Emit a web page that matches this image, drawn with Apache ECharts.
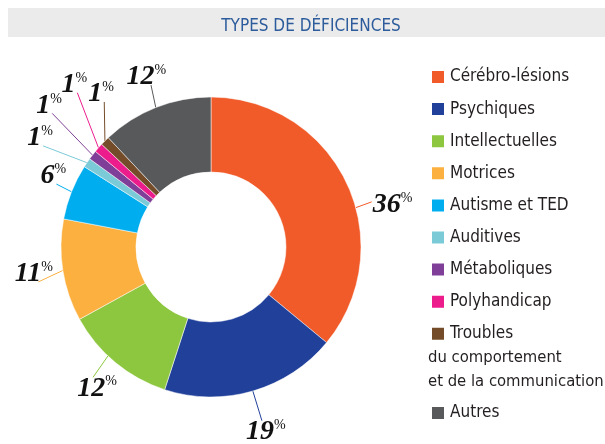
<!DOCTYPE html>
<html>
<head>
<meta charset="utf-8">
<script src="https://cdn.jsdelivr.net/npm/echarts@6/dist/echarts.min.js"></script>
<style>
  html, body { margin: 0; padding: 0; background: #fff; }
  #chart { width: 605px; height: 444px; }
</style>
</head>
<body>
<div id="chart"></div>
<script>
// types de déficiences, en %
const categories = ['Cérébro-lésions', 'Psychiques', 'Intellectuelles', 'Motrices', 'Autisme et TED',
  'Auditives', 'Métaboliques', 'Polyhandicap', 'Troubles', 'Autres']
const values = [36, 19, 12, 11, 6, 1, 1, 1, 1, 12]
const colors = ['#F15A29', '#21409A', '#8DC63F', '#FBB040', '#00AEEF',
  '#7BCAD8', '#7F3F98', '#EC1C8C', '#754C29', '#58595B']

// hand-placed leader lines, like the print layout (degrees clockwise from top, px)
const lineShift = [10, 0, 3.8, 0, 0, 0, 0, 0, 0, 0]
const lineAngle = [70, 163, 215, 245, 297, 291, 316, 339, 359, 348]
const lineLen = [17, 31, 26, 27, 17, 47, 58, 59, 39, 23]

const sansFont = "'Liberation Sans Narrow', 'DejaVu Sans Condensed', 'Roboto', sans-serif"
const serifFont = "'Liberation Serif', 'DejaVu Serif', serif"
const CX = 211
const CY = 247
const R = 150

const rad = d => d * Math.PI / 180

function placeLabel(params) {
  const i = params.dataIndex
  const p0 = params.labelLinePoints[0]
  // mid angle of the slice, from the point the library put on the rim
  const mid = Math.atan2(p0[0] - CX, -(p0[1] - CY)) * 180 / Math.PI
  const a = rad(mid + lineShift[i])
  const start = [CX + R * Math.sin(a), CY - R * Math.cos(a)]
  const dx = Math.sin(rad(lineAngle[i]))
  const dy = -Math.cos(rad(lineAngle[i]))
  const end = [start[0] + dx * lineLen[i], start[1] + dy * lineLen[i]]
  const w = params.labelRect.width
  const h = params.labelRect.height
  let x, y
  if (dx > 0.5) {
    x = end[0] + 1; y = end[1] - h * 0.4
  } else if (dy > 0.5) {
    x = end[0] - w * 0.4; y = end[1] - 3
  } else {
    x = end[0] - w * 0.62; y = end[1] - h * 0.78
  }
  return {
    x, y, align: 'left', verticalAlign: 'top',
    labelLinePoints: [start, end, end]
  }
}

const chart = echarts.init(document.getElementById('chart'))

chart.setOption({
  animation: false,
  title: {
    text: 'TYPES DE DÉFICIENCES',
    left: 306,
    top: 13,
    textAlign: 'center',
    textStyle: { color: '#2D5C9C', fontSize: 17, fontWeight: 'normal', fontFamily: sansFont }
  },
  graphic: [
    { type: 'rect', z: -1, shape: { x: 8, y: 8, width: 597, height: 29 }, style: { fill: '#EBEBEB' } },
    {
      type: 'text', left: 428, top: 346,
      style: {
        text: 'du comportement\net de la communication',
        fontSize: 16.5, lineHeight: 23.5, fontFamily: sansFont, fill: '#231F20'
      }
    }
  ],
  legend: [{
    orient: 'vertical',
    left: 430,
    top: 67,
    padding: 0,
    data: categories.slice(0, 9),
    icon: 'rect',
    itemWidth: 14,
    itemHeight: 14,
    itemGap: 12.1,
    textStyle: { fontSize: 17, lineHeight: 20, color: '#231F20', fontFamily: sansFont },
    selectedMode: false
  }, {
    orient: 'vertical',
    left: 430,
    top: 403,
    padding: 0,
    data: categories.slice(9),
    icon: 'rect',
    itemWidth: 14,
    itemHeight: 14,
    textStyle: { fontSize: 17, lineHeight: 20, color: '#231F20', fontFamily: sansFont },
    selectedMode: false
  }],
  series: [{
    type: 'pie',
    center: [CX, CY],
    radius: [75, R],
    startAngle: 90,
    clockwise: true,
    avoidLabelOverlap: false,
    itemStyle: { borderColor: '#fff', borderWidth: 0.5 },
    label: {
      formatter: '{n|{c}}{p|%}',
      rich: {
        n: { fontSize: 28, fontFamily: serifFont, fontWeight: 'bold', fontStyle: 'italic', color: '#111' },
        p: { fontSize: 14, fontFamily: serifFont, color: '#111', padding: [0, 0, 13, 0] }
      }
    },
    labelLine: { length: 12, length2: 4, lineStyle: { width: 1 } },
    labelLayout: placeLabel,
    data: categories.map((name, i) => ({ name, value: values[i], itemStyle: { color: colors[i] } }))
  }]
})
</script>
</body>
</html>
